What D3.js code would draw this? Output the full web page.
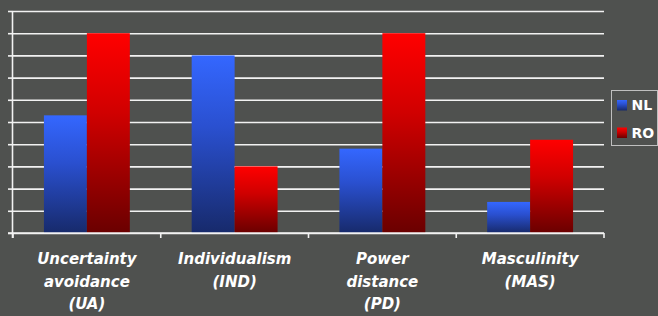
<!DOCTYPE html>
<html>
<head>
<meta charset="utf-8">
<script src="https://cdn.jsdelivr.net/npm/d3@7"></script>
<style>
  html, body { margin: 0; padding: 0; background: #4f514f; }
  svg { display: block; }
  .cat-label { font-family: "DejaVu Sans", sans-serif; font-weight: bold; font-style: italic; font-size: 15px; fill: #ffffff; }
  .legend-label { font-family: "DejaVu Sans", sans-serif; font-weight: bold; font-size: 14px; fill: #ffffff; }
</style>
</head>
<body>
<div id="chart"></div>
<script>
// Hofstede dimensions, NL vs RO
const categories = ["UA", "IND", "PD", "MAS"];
const categoryLines = [
  ["Uncertainty", "avoidance", "(UA)"],
  ["Individualism", "(IND)"],
  ["Power", "distance", "(PD)"],
  ["Masculinity", "(MAS)"]
];
const seriesNames = ["NL", "RO"];
const nlValues = [53, 80, 38, 14];
const roValues = [90, 30, 90, 42];
const yTicks = [0, 10, 20, 30, 40, 50, 60, 70, 80, 90, 100];

const width = 658, height = 316;
const margin = { top: 11, right: 54, bottom: 83, left: 13 };
const innerWidth = width - margin.left - margin.right;
const innerHeight = height - margin.top - margin.bottom;

const gradients = {
  NL: ["#3467ff", "#2a50d0", "#172a6b"],
  RO: ["#ff0000", "#d00000", "#6a0000"]
};

const rows = categories.map((c, i) => ({ category: c, NL: nlValues[i], RO: roValues[i] }));

const svg = d3.select("#chart").append("svg")
  .attr("width", width)
  .attr("height", height);

const defs = svg.append("defs");
seriesNames.forEach((s) => {
  const g = defs.append("linearGradient")
    .attr("id", "grad-" + s)
    .attr("x1", 0).attr("y1", 0).attr("x2", 0).attr("y2", 1);
  g.append("stop").attr("offset", "0%").attr("stop-color", gradients[s][0]);
  g.append("stop").attr("offset", "40%").attr("stop-color", gradients[s][1]);
  g.append("stop").attr("offset", "100%").attr("stop-color", gradients[s][2]);
});

const plot = svg.append("g").attr("transform", `translate(${margin.left}, ${margin.top})`);

const x0 = d3.scaleBand().domain(categories).range([0, innerWidth]).paddingInner(0).paddingOuter(0);
const x1 = d3.scaleBand().domain(seriesNames).range([0, x0.bandwidth()]).paddingInner(0).paddingOuter(0.72);
const y = d3.scaleLinear().domain([0, 100]).range([innerHeight, 0]);

// gridlines
const grid = plot.append("g").attr("class", "grid")
  .call(d3.axisLeft(y).tickValues(yTicks).tickSize(-innerWidth).tickFormat(""));
grid.select(".domain").remove();
grid.selectAll("line").attr("stroke", "#f2f2f2").attr("stroke-width", 1.6);

// bars
const groups = plot.append("g").selectAll("g")
  .data(rows)
  .join("g")
  .attr("transform", (d) => `translate(${x0(d.category)}, 0)`);

groups.selectAll("rect")
  .data((d) => seriesNames.map((s) => ({ key: s, value: d[s] })))
  .join("rect")
  .attr("x", (d) => x1(d.key))
  .attr("y", (d) => y(d.value))
  .attr("width", x1.bandwidth())
  .attr("height", (d) => y(0) - y(d.value))
  .attr("fill", (d) => `url(#grad-${d.key})`);

// y axis (ticks only)
const yAxis = plot.append("g")
  .call(d3.axisLeft(y).tickValues(yTicks).tickSize(5).tickFormat(""));
yAxis.selectAll("line").attr("stroke", "#f2f2f2").attr("stroke-width", 1.6);
yAxis.select(".domain").attr("stroke", "#f2f2f2").attr("stroke-width", 1.6)
  .attr("d", `M-0.5,0V${innerHeight + 5}`);

// x axis with ticks at category boundaries
const bounds = categories.map((c) => x0(c)).concat([x0.range()[1]]);
const xAxis = plot.append("g").attr("transform", `translate(0, ${innerHeight})`);
xAxis.append("line")
  .attr("x1", -5).attr("x2", innerWidth)
  .attr("stroke", "#f2f2f2").attr("stroke-width", 1.6);
xAxis.selectAll("line.tick")
  .data(bounds)
  .join("line")
  .attr("class", "tick")
  .attr("x1", (d) => d).attr("x2", (d) => d)
  .attr("y1", 0).attr("y2", 5)
  .attr("stroke", "#f2f2f2").attr("stroke-width", 1.6);

// category labels, one text per line
const labelLines = [];
categories.forEach((c, i) => {
  categoryLines[i].forEach((t, j) => {
    labelLines.push({ category: c, line: j, text: t });
  });
});

svg.append("g").selectAll("text.cat-label")
  .data(labelLines)
  .join("text")
  .attr("class", "cat-label")
  .attr("text-anchor", "middle")
  .attr("x", (d) => margin.left + x0(d.category) + x0.bandwidth() / 2)
  .attr("y", (d) => margin.top + innerHeight + 31 + d.line * 22.7)
  .text((d) => d.text);

// legend
const legend = svg.append("g").attr("transform", "translate(611.5, 90.5)");
legend.append("rect")
  .attr("width", 46).attr("height", 55)
  .attr("fill", "none").attr("stroke", "#bfbfbf").attr("stroke-width", 1);

const legendItems = legend.selectAll("g.item")
  .data(seriesNames)
  .join("g")
  .attr("class", "item")
  .attr("transform", (d, i) => `translate(5.5, ${9.5 + i * 27.5})`);

legendItems.append("rect")
  .attr("width", 10).attr("height", 10.5)
  .attr("fill", (d) => `url(#grad-${d})`);

legendItems.append("text")
  .attr("class", "legend-label")
  .attr("x", 14.5)
  .attr("y", 10)
  .text((d) => d);
</script>
</body>
</html>
